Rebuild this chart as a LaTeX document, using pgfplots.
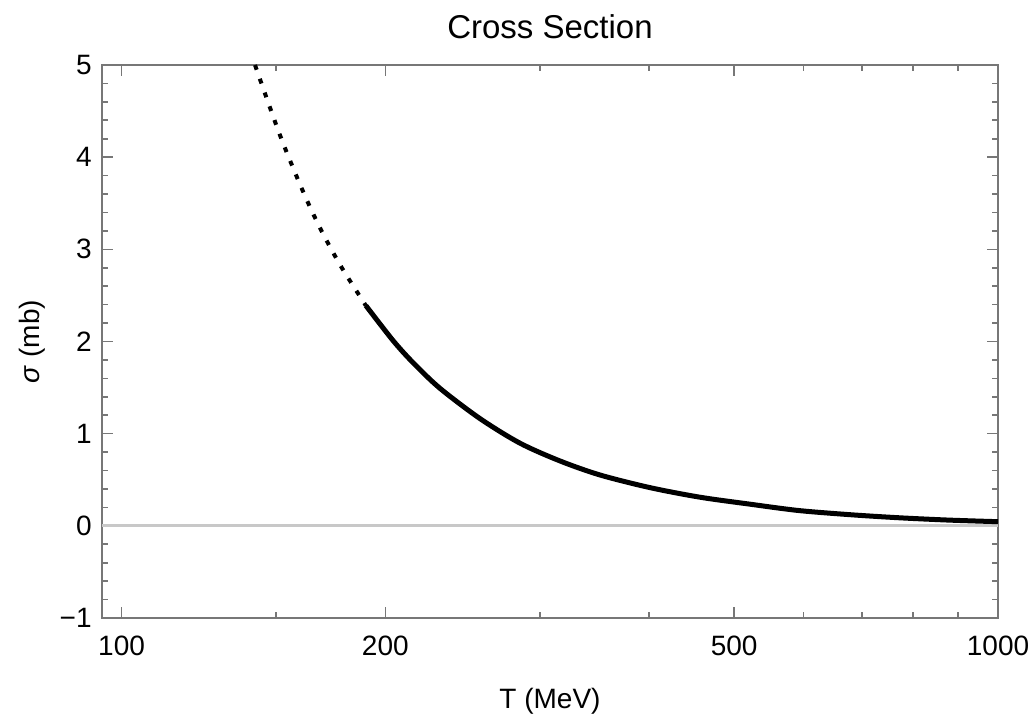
\documentclass[border=0pt]{standalone}
\usepackage{pgfplots}
\pgfplotsset{compat=1.18}
\usepackage{fontspec}
\setmainfont{Liberation Sans}
\definecolor{framegray}{HTML}{777777}
\definecolor{zerogray}{HTML}{C8C8C8}
\begin{document}
\fontsize{14}{16}\selectfont
\begin{tikzpicture}
\begin{axis}[
  scale only axis, width=448pt, height=276.5pt,
  xmode=log, log basis x=10,
  xmin=95, xmax=1000, ymin=-1, ymax=5,
  xtick={100,200,500,1000}, xticklabels={100,200,500,1000},
  minor xtick={150,300,400,600,700,800,900},
  ytick={-1,0,1,2,3,4,5}, yticklabels={−1,0,1,2,3,4,5},
  minor y tick num=4,
  /pgf/number format/assume math mode=true,
  axis line style={framegray, line width=1pt},
  every tick/.style={framegray, line width=0.8pt},
  major tick length=5.5pt, minor tick length=3pt,
  tick align=inside,
  ticklabel style={font=\fontsize{14}{16}\selectfont, black, inner sep=0pt},
  xticklabel style={anchor=base, yshift=-18.5pt},
  yticklabel style={anchor=east, xshift=-5pt},
  title={Cross Section},
  title style={font=\fontsize{16.5}{18}\selectfont, anchor=base, at={(axis description cs:0.5,1)}, yshift=7pt, inner sep=0pt},
  xlabel={T (MeV)},
  xlabel style={font=\fontsize{14}{16}\selectfont, anchor=base, at={(axis description cs:0.5,0)}, yshift=-45pt, inner sep=0pt},
  ylabel={\textit{σ} (mb)},
  ylabel style={font=\fontsize{14}{16}\selectfont, anchor=base, at={(axis description cs:-0.0703,0.5)}, inner sep=0pt},
  clip=true,
]
\addplot[zerogray, line width=1.5pt] coordinates {(95,0) (1000,0)};
\addplot[black, line width=2pt, dash pattern=on 2.5pt off 4.8pt, smooth] coordinates {
(142.0,5.00) (151.5,4.248) (160.4,3.669) (168.0,3.254) (177.4,2.838) (188.3,2.448) (190,2.39)
};
\addplot[black, line width=2.5pt, smooth] coordinates {
(190,2.39) (204,2.012) (215,1.772) (230.7,1.494) (256.3,1.165) (284.7,0.898) (316.2,0.705)
(351.4,0.552) (400.6,0.415) (456.8,0.311) (521.2,0.235) (592.4,0.166) (680,0.120)
(773,0.087) (880,0.062) (1000,0.045)
};
\end{axis}
\path ([xshift=-51pt,yshift=-49pt]current axis.south west) rectangle ([xshift=16.5pt,yshift=32.5pt]current axis.north east);
\end{tikzpicture}
\end{document}
